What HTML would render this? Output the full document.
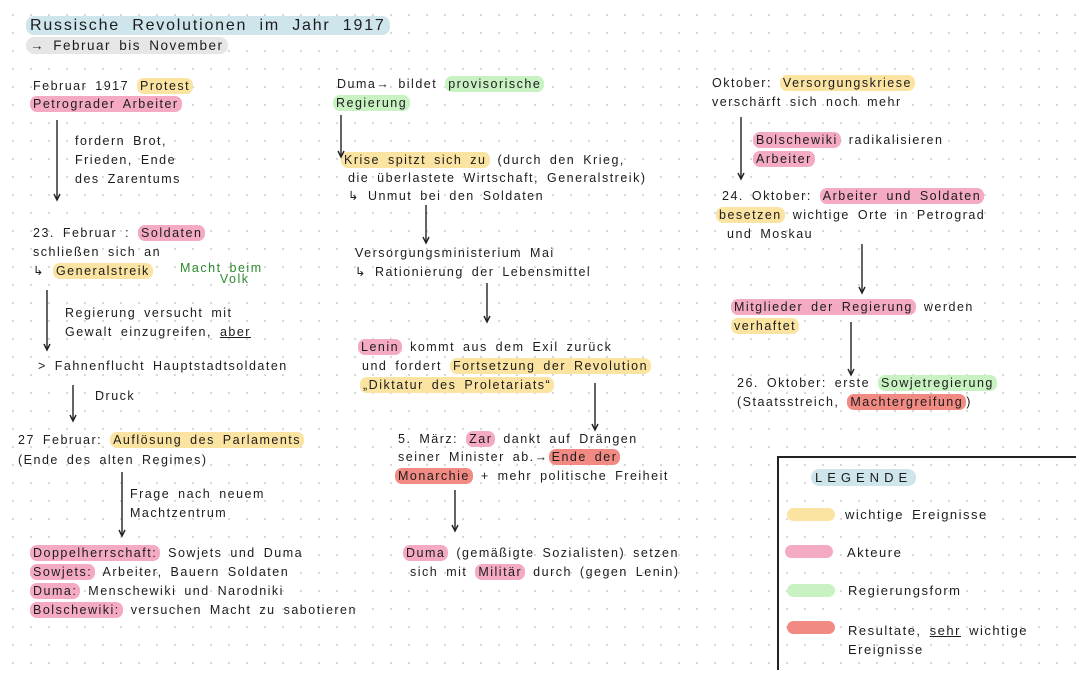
<!DOCTYPE html>
<html><head><meta charset="utf-8"><style>
body{margin:0;width:1080px;height:674px;overflow:hidden;background:#fff;
background-image:radial-gradient(circle,#d4d4d4 0.9px,transparent 1.3px);background-size:18px 18px;background-position:4px 6px;
font-family:"Liberation Sans",sans-serif;color:#1c1c1c}
.t{position:absolute;font-size:12.5px;letter-spacing:1.5px;word-spacing:3px;white-space:nowrap;line-height:16px}
.y{background:#fbe3a2;border-radius:7px;padding:1px 3px}
.p{background:#f5aac4;border-radius:7px;padding:1px 3px}
.g{background:#c8f2c2;border-radius:7px;padding:1px 3px}
.r{background:#f28a84;border-radius:7px;padding:1px 3px}
.b{background:#cfe5ec;border-radius:8px;padding:1px 4px}
.gr{background:#e6e6e6;border-radius:8px;padding:1px 4px}
.sw{position:absolute;width:48px;height:13px;border-radius:7px}
svg{position:absolute;left:0;top:0}
</style></head><body>
<div class="t" style="left:26px;top:18px;font-size:16px;letter-spacing:1.8px;word-spacing:6px"><span class="b">Russische Revolutionen im Jahr 1917</span></div>
<div class="t" style="left:26px;top:38px;font-size:13.5px"><span class="gr">→ Februar bis November</span></div>

<div class="t" style="left:33px;top:78px">Februar 1917 <span class="y">Protest</span></div>
<div class="t" style="left:30px;top:96px"><span class="p">Petrograder Arbeiter</span></div>
<div class="t" style="left:75px;top:133px">fordern Brot,</div>
<div class="t" style="left:75px;top:152px">Frieden, Ende</div>
<div class="t" style="left:75px;top:171px">des Zarentums</div>
<div class="t" style="left:33px;top:225px">23. Februar : <span class="p">Soldaten</span></div>
<div class="t" style="left:33px;top:244px">schließen sich an</div>
<div class="t" style="left:33px;top:263px">↳ <span class="y">Generalstreik</span></div>
<div class="t" style="left:180px;top:263px;color:#2d8a2d;line-height:11px">Macht beim<br>&nbsp;&nbsp;&nbsp;&nbsp;&nbsp;Volk</div>
<div class="t" style="left:65px;top:305px">Regierung versucht mit</div>
<div class="t" style="left:65px;top:324px">Gewalt einzugreifen, <u>aber</u></div>
<div class="t" style="left:38px;top:358px">&gt; Fahnenflucht Hauptstadtsoldaten</div>
<div class="t" style="left:95px;top:388px">Druck</div>
<div class="t" style="left:18px;top:432px">27 Februar: <span class="y">Auflösung des Parlaments</span></div>
<div class="t" style="left:18px;top:452px">(Ende des alten Regimes)</div>
<div class="t" style="left:130px;top:486px">Frage nach neuem</div>
<div class="t" style="left:130px;top:505px">Machtzentrum</div>
<div class="t" style="left:30px;top:545px"><span class="p">Doppelherrschaft:</span> Sowjets und Duma</div>
<div class="t" style="left:30px;top:564px"><span class="p">Sowjets:</span> Arbeiter, Bauern Soldaten</div>
<div class="t" style="left:30px;top:583px"><span class="p">Duma:</span> Menschewiki und Narodniki</div>
<div class="t" style="left:30px;top:602px"><span class="p">Bolschewiki:</span> versuchen Macht zu sabotieren</div>

<div class="t" style="left:337px;top:76px">Duma→ bildet <span class="g">provisorische</span></div>
<div class="t" style="left:333px;top:95px"><span class="g">Regierung</span></div>
<div class="t" style="left:341px;top:152px"><span class="y">Krise spitzt sich zu</span> (durch den Krieg,</div>
<div class="t" style="left:348px;top:170px">die überlastete Wirtschaft, Generalstreik)</div>
<div class="t" style="left:348px;top:188px">↳ Unmut bei den Soldaten</div>
<div class="t" style="left:355px;top:245px">Versorgungsministerium Mai</div>
<div class="t" style="left:355px;top:264px">↳ Rationierung der Lebensmittel</div>
<div class="t" style="left:358px;top:339px"><span class="p">Lenin</span> kommt aus dem Exil zurück</div>
<div class="t" style="left:362px;top:358px">und fordert <span class="y">Fortsetzung der Revolution</span></div>
<div class="t" style="left:360px;top:377px"><span class="y">„Diktatur des Proletariats“</span></div>
<div class="t" style="left:398px;top:431px">5. März: <span class="p">Zar</span> dankt auf Drängen</div>
<div class="t" style="left:398px;top:449px">seiner Minister ab.→<span class="r">Ende der</span></div>
<div class="t" style="left:395px;top:468px"><span class="r">Monarchie</span> + mehr politische Freiheit</div>
<div class="t" style="left:403px;top:545px"><span class="p">Duma</span> (gemäßigte Sozialisten) setzen</div>
<div class="t" style="left:410px;top:564px">sich mit <span class="p">Militär</span> durch (gegen Lenin)</div>

<div class="t" style="left:712px;top:75px">Oktober: <span class="y">Versorgungskriese</span></div>
<div class="t" style="left:712px;top:94px">verschärft sich noch mehr</div>
<div class="t" style="left:753px;top:132px"><span class="p">Bolschewiki</span> radikalisieren</div>
<div class="t" style="left:753px;top:151px"><span class="p">Arbeiter</span></div>
<div class="t" style="left:722px;top:188px">24. Oktober: <span class="p">Arbeiter und Soldaten</span></div>
<div class="t" style="left:716px;top:207px"><span class="y">besetzen</span> wichtige Orte in Petrograd</div>
<div class="t" style="left:727px;top:226px">und Moskau</div>
<div class="t" style="left:731px;top:299px"><span class="p">Mitglieder der Regierung</span> werden</div>
<div class="t" style="left:731px;top:318px"><span class="y">verhaftet</span></div>
<div class="t" style="left:737px;top:375px">26. Oktober: erste <span class="g">Sowjetregierung</span></div>
<div class="t" style="left:737px;top:394px">(Staatsstreich, <span class="r">Machtergreifung</span>)</div>

<div style="position:absolute;left:777px;top:456px;width:299px;height:2px;background:#222"></div>
<div style="position:absolute;left:777px;top:456px;width:2px;height:214px;background:#222"></div>
<div class="t" style="left:811px;top:470px;font-size:13px;letter-spacing:5px"><span class="b">LEGENDE</span></div>
<div class="sw" style="left:787px;top:508px;background:#fbe3a2"></div>
<div class="sw" style="left:785px;top:545px;background:#f5aac4"></div>
<div class="sw" style="left:787px;top:584px;background:#c8f2c2"></div>
<div class="sw" style="left:787px;top:621px;background:#f28a84"></div>
<div class="t" style="left:845px;top:507px;font-size:13px">wichtige Ereignisse</div>
<div class="t" style="left:847px;top:545px;font-size:13px">Akteure</div>
<div class="t" style="left:848px;top:583px;font-size:13px">Regierungsform</div>
<div class="t" style="left:848px;top:621px;font-size:13px;line-height:19px">Resultate, <u>sehr</u> wichtige<br>Ereignisse</div>

<svg width="1080" height="674" stroke="#222" stroke-width="1.4" fill="none">
<g>
<line x1="57" y1="120" x2="57" y2="199"/><path d="M54 194 L57 200 L60 194"/>
<line x1="47" y1="290" x2="47" y2="349"/><path d="M44 344 L47 350 L50 344"/>
<line x1="73" y1="385" x2="73" y2="420"/><path d="M70 415 L73 421 L76 415"/>
<line x1="122" y1="472" x2="122" y2="535"/><path d="M119 530 L122 536 L125 530"/>
<line x1="341" y1="115" x2="341" y2="156"/><path d="M338 151 L341 157 L344 151"/>
<line x1="426" y1="205" x2="426" y2="242"/><path d="M423 237 L426 243 L429 237"/>
<line x1="487" y1="283" x2="487" y2="321"/><path d="M484 316 L487 322 L490 316"/>
<line x1="595" y1="383" x2="595" y2="429"/><path d="M592 424 L595 430 L598 424"/>
<line x1="455" y1="490" x2="455" y2="530"/><path d="M452 525 L455 531 L458 525"/>
<line x1="741" y1="117" x2="741" y2="178"/><path d="M738 173 L741 179 L744 173"/>
<line x1="862" y1="244" x2="862" y2="292"/><path d="M859 287 L862 293 L865 287"/>
<line x1="851" y1="322" x2="851" y2="374"/><path d="M848 369 L851 375 L854 369"/>
</g></svg>
</body></html>
